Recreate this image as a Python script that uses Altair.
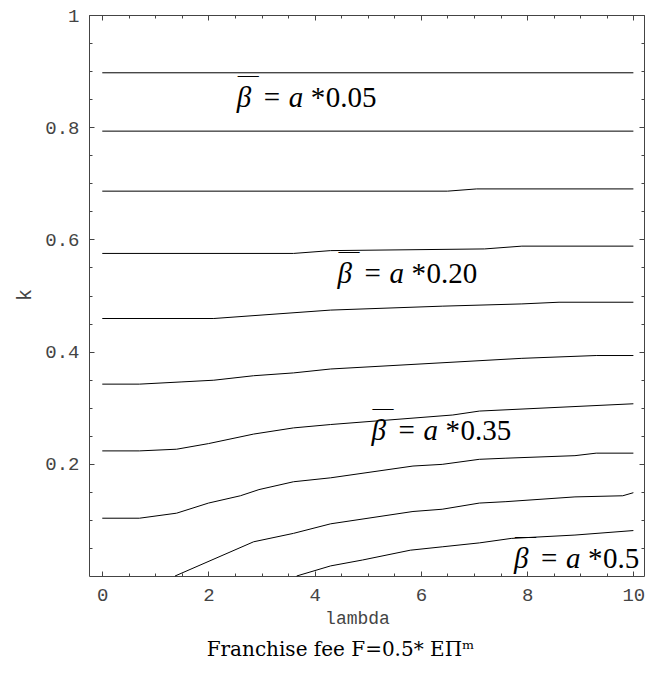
import altair as alt
import pandas as pd

# ---- contour lines (lambda, k) ----
C1_LAM = [0, 10]
C1_K = [0.897, 0.897]
C2_LAM = [0, 10]
C2_K = [0.793, 0.793]
C3_LAM = [0, 6.5, 7.05, 10]
C3_K = [0.686, 0.686, 0.690, 0.690]
C4_LAM = [0, 3.6, 4.3, 7.2, 7.9, 10]
C4_K = [0.575, 0.575, 0.580, 0.583, 0.588, 0.588]
C5_LAM = [0, 2.1, 4.3, 6.4, 7.9, 8.6, 10]
C5_K = [0.459, 0.459, 0.474, 0.481, 0.485, 0.488, 0.488]
C6_LAM = [0, 0.7, 1.5, 2.1, 2.85, 3.6, 4.3, 7.9, 9.3, 10]
C6_K = [0.342, 0.342, 0.346, 0.349, 0.357, 0.362, 0.369, 0.388, 0.393, 0.393]
C7_LAM = [0, 0.7, 1.4, 2.0, 2.85, 3.6, 4.3, 6.6, 7.1, 10]
C7_K = [0.223, 0.223, 0.226, 0.236, 0.253, 0.264, 0.270, 0.287, 0.294, 0.307]
C8_LAM = [0, 0.7, 1.4, 2.0, 2.6, 2.95, 3.6, 4.3, 5.85, 6.4, 7.1, 7.6, 8.9, 9.3, 10]
C8_K = [0.103, 0.103, 0.112, 0.130, 0.143, 0.154, 0.168, 0.175, 0.196, 0.199,
        0.208, 0.210, 0.2145, 0.219, 0.219]
C9_LAM = [1.37, 2.85, 3.6, 4.3, 5.85, 6.4, 7.1, 7.6, 8.9, 9.8, 10]
C9_K = [0.0, 0.061, 0.076, 0.093, 0.115, 0.119, 0.130, 0.1325, 0.141, 0.143, 0.1485]
C10_LAM = [3.66, 4.3, 4.9, 5.8, 6.4, 7.1, 7.7, 8.9, 10]
C10_K = [0.0, 0.018, 0.0285, 0.046, 0.052, 0.059, 0.067, 0.073, 0.081]

# ---- in-plot labels (left edge of beta, text baseline) ----
LABEL_LAM = [2.53, 4.43, 5.07, 7.75]
LABEL_K = [0.836, 0.522, 0.2417, 0.0143]
LABEL_NUM = ["0.05", "0.20", "0.35", "0.5"]

# ---- axis ticks ----
X_MAJOR = [0, 2, 4, 6, 8, 10]
X_MINOR = [0, 0.5, 1, 1.5, 2, 2.5, 3, 3.5, 4, 4.5, 5, 5.5, 6, 6.5, 7, 7.5,
           8, 8.5, 9, 9.5, 10]
Y_MAJOR = [0.2, 0.4, 0.6, 0.8, 1.0]
Y_MINOR = [0.05, 0.1, 0.15, 0.2, 0.25, 0.3, 0.35, 0.4, 0.45, 0.5, 0.55, 0.6,
           0.65, 0.7, 0.75, 0.8, 0.85, 0.9, 0.95, 1.0]

X_TITLE = "lambda"
Y_TITLE = "k"
CAPTION = "Franchise fee F=0.5* E\u03a0\u1d50"

contours = [(C1_LAM, C1_K), (C2_LAM, C2_K), (C3_LAM, C3_K), (C4_LAM, C4_K),
            (C5_LAM, C5_K), (C6_LAM, C6_K), (C7_LAM, C7_K), (C8_LAM, C8_K),
            (C9_LAM, C9_K), (C10_LAM, C10_K)]
rows = []
for cid, (lams, ks) in enumerate(contours):
    for o, (l, k) in enumerate(zip(lams, ks)):
        rows.append({"c": cid, "o": o, "lam": l, "k": k})
lines_df = pd.DataFrame(rows)
labels_df = pd.DataFrame({"lam": LABEL_LAM, "k": LABEL_K, "num": LABEL_NUM})

W, H = 555, 561
FRAME = "#444444"
MONO = "Liberation Mono"
SERIF = "Liberation Serif, Times New Roman, serif"
xs = alt.Scale(domain=[-0.25, 10.2], nice=False, zero=False)
ys = alt.Scale(domain=[0, 1], nice=False, zero=False)


def tick_axis(orient, values, size, offset):
    return alt.Axis(orient=orient, values=values, tickSize=size, offset=offset,
                    labels=False, domain=False, grid=False, ticks=True,
                    tickColor=FRAME, tickWidth=1, title=None)


lines = alt.Chart(lines_df).mark_line(color="black", strokeWidth=1).encode(
    x=alt.X("lam:Q", scale=xs, axis=alt.Axis(
        orient="bottom", values=X_MAJOR, ticks=False, tickSize=0, domain=False,
        grid=False, labelFont=MONO, labelFontSize=19, labelColor="#444444",
        labelPadding=9, title=X_TITLE, titleFont=MONO, titleFontSize=18,
        titleFontWeight="normal", titleColor="#444444", titleX=268, titleY=47,
        titleAlign="center", titleBaseline="alphabetic")),
    y=alt.Y("k:Q", scale=ys, axis=alt.Axis(
        orient="left", values=Y_MAJOR, ticks=False, tickSize=0, domain=False,
        grid=False, labelFont=MONO, labelFontSize=19, labelColor="#444444",
        labelPadding=10,
        labelExpr="datum.value == 1 ? '1' : format(datum.value, '.1f')",
        title=Y_TITLE, titleFont=MONO, titleFontSize=20,
        titleFontWeight="normal", titleColor="#444444", titleX=-59,
        titleY=279.5, titleAngle=270, titleAlign="center",
        titleBaseline="alphabetic")),
    detail="c:N",
    order="o:Q",
)


def tick_layer(xax, yax):
    return alt.Chart(lines_df).mark_line(strokeOpacity=0).encode(
        x=alt.X("lam:Q", scale=xs, axis=xax),
        y=alt.Y("k:Q", scale=ys, axis=yax),
        detail="c:N",
    )


t1 = tick_layer(tick_axis("top", X_MAJOR, 5, -H), tick_axis("right", Y_MAJOR, 5, -W))
t2 = tick_layer(tick_axis("top", X_MINOR, 3, -H), tick_axis("right", Y_MINOR, 3, -W))
t3 = tick_layer(tick_axis("bottom", X_MAJOR, 5, -H), tick_axis("left", Y_MAJOR, 5, -W))
t4 = tick_layer(tick_axis("bottom", X_MINOR, 3, -H), tick_axis("left", Y_MINOR, 3, -W))


def text_layer(**kw):
    base = dict(font=SERIF, fontSize=29, align="left", baseline="alphabetic",
                color="black")
    base.update(kw)
    return alt.Chart(labels_df).mark_text(**base).encode(
        x=alt.X("lam:Q", scale=xs, axis=None),
        y=alt.Y("k:Q", scale=ys, axis=None),
    )


beta = text_layer(text="\u03b2", fontStyle="italic", dx=0)
bar = text_layer(text="\u2014", fontSize=21, dx=1, dy=-25)
eq = text_layer(text="=", dx=27)
a_ = text_layer(text="a", fontStyle="italic", dx=52)
star = text_layer(text="*", dx=74)
num = alt.Chart(labels_df).mark_text(
    font=SERIF, fontSize=29, align="left", baseline="alphabetic",
    color="black", dx=89).encode(
    x=alt.X("lam:Q", scale=xs, axis=None),
    y=alt.Y("k:Q", scale=ys, axis=None),
    text="num:N",
)

chart = alt.layer(lines, t1, t2, t3, t4, beta, bar, eq, a_, star, num).resolve_axis(
    x="independent", y="independent"
).properties(
    width=W, height=H,
    padding={"left": 81, "top": 7, "right": 2, "bottom": 86},
    autosize=alt.AutoSizeParams(type="none"),
    title=alt.TitleParams(CAPTION, orient="bottom", anchor="middle",
                          font="DejaVu Serif", fontSize=20,
                          fontWeight="normal", color="black", dx=-26,
                          offset=13),
).configure_view(stroke=FRAME, strokeWidth=1)

chart.save("out.html", embed_options={"renderer": "svg", "actions": False})
